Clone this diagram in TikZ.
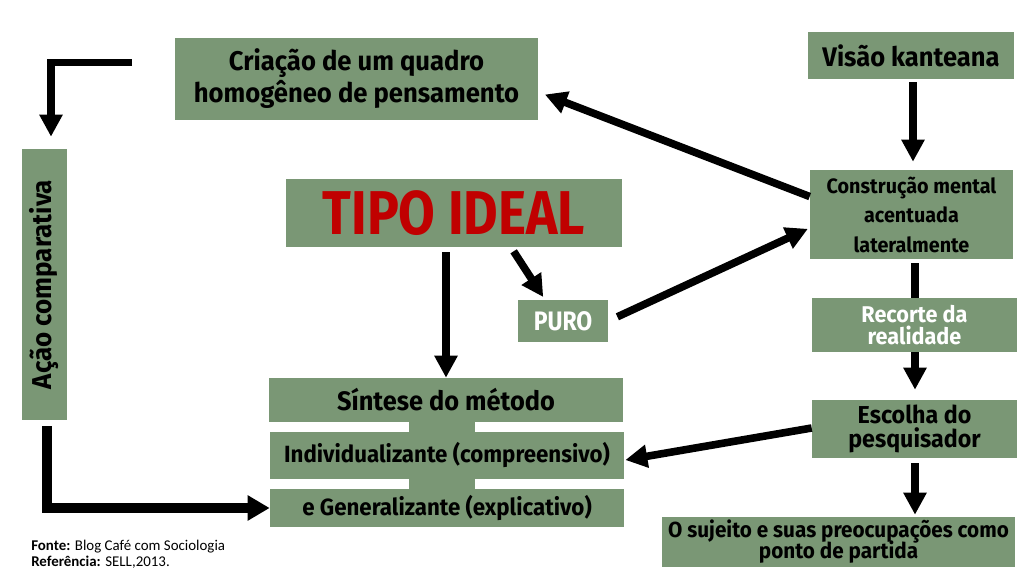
\documentclass[tikz,border=0pt]{standalone}
\usepackage{fontspec}
\setmainfont{Carlito}
\newfontfamily\cond[FakeStretch=0.95]{Fira Sans}
\newfontfamily\estreita[FakeStretch=0.86]{Fira Sans}
\usetikzlibrary{arrows.meta,calc}
\definecolor{verde}{RGB}{122,151,117}
\definecolor{vermelho}{RGB}{192,0,0}
\newcommand{\letra}[2]{\cond\bfseries\fontsize{#1}{#2}\selectfont\lineskiplimit=-30pt}
\tikzset{
  bloco/.style={rectangle, fill=verde, inner sep=0pt, align=center},
  seta/.style={line width=0.19cm, -{Triangle[width=0.55cm,length=0.55cm]}}
}
\begin{document}
\begin{tikzpicture}[x=0.025cm, y=-0.025cm]
\useasboundingbox (0,0) rectangle (1024,577);
\node[bloco, minimum width=9.075cm, minimum height=2.05cm,
	font=\letra{19.2}{22.7}] (cq) at (356.5,79) {Criação de um quadro\\homogêneo de pensamento};
\node[bloco, minimum width=5.15cm, minimum height=1.175cm,
	font=\letra{19.1}{22}] (vk) at (911,55.5) {Visão kanteana};
\node[bloco, minimum width=5.075cm, minimum height=2.225cm,
	font=\letra{14.8}{21}] (cm) at (911.5,214.5) {Construção mental\\acentuada\\lateralmente};
\node[bloco, minimum width=5.125cm, minimum height=1.35cm, text=white,
	font=\letra{16.2}{15.8}] (rr) at (914.5,325) {Recorte da\\realidade};
\node[bloco, minimum width=5.125cm, minimum height=1.45cm,
	font=\letra{17.4}{17}] (ep) at (914.5,429) {Escolha do\\pesquisador};
\node[bloco, minimum width=8.825cm, minimum height=1.25cm,
	font=\letra{15.5}{15}] (sp) at (838.5,542) {O sujeito e suas preocupações como\\ponto de partida};
\node[bloco, minimum width=8.4cm, minimum height=1.7cm, text=vermelho,
	font=\estreita\bfseries\fontsize{44}{48}\selectfont] (ti) at (454,213) {TIPO IDEAL};
\node[bloco, minimum width=2.25cm, minimum height=1.05cm, text=white,
	font=\estreita\bfseries\fontsize{19}{22}\selectfont] (pu) at (563,321) {PURO};
\node[bloco, rotate=90, minimum width=6.775cm, minimum height=1.125cm,
	font=\letra{19.4}{20}] (ac) at (44.5,284.5) {Ação comparativa};
\node[bloco, minimum width=8.85cm, minimum height=1.1cm,
	font=\letra{19}{20}] (sm) at (446,400) {Síntese do método};
\node[bloco, minimum width=8.85cm, minimum height=1.175cm,
	font=\letra{16.7}{20}] (ic) at (447,455.5) {Individualizante (compreensivo)};
\node[bloco, minimum width=8.85cm, minimum height=0.95cm,
	font=\letra{16.7}{20}] (ge) at (447,508) {e Generalizante (explicativo)};
\fill[verde] ($(sm.south)+(-37,0)$) rectangle ($(ic.north)+(28,0)$);
\fill[verde] ($(ic.south)+(-38,0)$) rectangle ($(ge.north)+(28,0)$);
\node[anchor=north west, align=left, inner sep=0pt,
	font=\fontsize{10.6}{11.4}\selectfont] (fn) at (31,540) {\textbf{Fonte:} Blog Café com Sociologia\\\textbf{Referência:} SELL,2013.};
\coordinate (l1) at (132,62.5);
\draw[seta, line width=0.18cm] (l1) -| ($(ac.east)+(6.5,0)$) [shorten >=0.3cm];
\draw[seta, line width=0.25cm, -{Triangle[width=0.6cm,length=0.55cm]}] ($(ac.west)+(2.5,6)$) |- (ge.west);
\draw[seta, shorten >=0.175cm] (cm.170) -- ($(cq.east)+(0,13)$);
\draw[seta, shorten >=0.05cm, shorten <=0.25cm] (pu.east) -- ($(cm.west)+(0,13.5)$);
\draw[seta, shorten <=0.12cm, shorten >=0.08cm] ($(ti.south)+(57,0)$) -- ($(pu.north)+(-18,0)$);
\draw[seta, shorten <=0.12cm] (sm.north |- ti.south) -- (sm.north);
\draw[seta, shorten <=0.07cm, shorten >=0.2cm] ($(vk.south)+(2,0)$) -- ($(cm.north)+(1.5,0)$);
\draw[line width=0.19cm, shorten <=0.1cm] ($(cm.south)+(3.5,0)$) -- ($(rr.north)+(0.5,0)$);
\draw[seta, shorten >=0.25cm] ($(rr.south)+(0.5,0)$) -- ($(ep.north)+(0.5,0)$);
\draw[seta] ($(ep.west)+(0,-1)$) -- ($(ic.east)+(1,4.5)$);
\draw[seta, shorten <=0.12cm, shorten >=0.05cm] ($(ep.south)+(0.5,0)$) -- ($(ep.south |- sp.north)+(0.5,0)$);
\end{tikzpicture}
\end{document}
